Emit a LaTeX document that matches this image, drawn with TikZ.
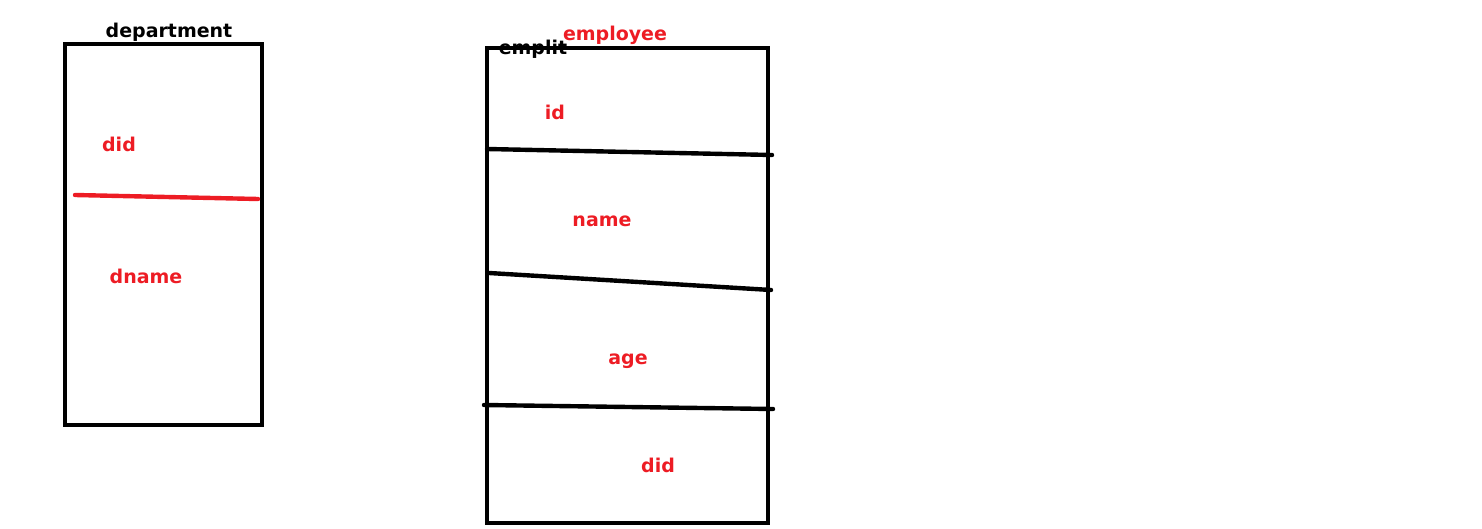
\documentclass[tikz,border=0pt]{standalone}
\usepackage{fontspec}
\setmainfont{DejaVu Sans}
\usepackage{tikz}
\usetikzlibrary{calc}

\definecolor{paintred}{HTML}{ED1C24}

\tikzset{
    tablebox/.style={draw, line width=2pt},
    sepline/.style={line width=2.2pt, line cap=round},
    field/.style={text=paintred, font=\fontsize{9.5}{11}\selectfont\bfseries, inner sep=0pt},
    title/.style={font=\fontsize{9.5}{11}\selectfont\bfseries, inner sep=0pt}
}

\begin{document}
\begin{tikzpicture}[x=0.5pt, y=-0.5pt]

    % Canvas
    \useasboundingbox (0,0) rectangle (1482,529);

    % department table
    \draw[tablebox] (65,44) rectangle (262,425);
    \node[title] (depttitle) at (169,32) {department};
    \node[field] (did) at (119,144) {did};
    \coordinate (dsepL) at (75,195);
    \coordinate (dsepR) at (258,199);
    \draw[sepline, paintred] (dsepL) -- (dsepR);
    \node[field] (dname) at (146,276) {dname};

    % employee table
    \draw[tablebox] (487,48) rectangle (768,523);
    \node[title, text=paintred] (emptitle) at (615,35) {employee};
    \node[title] (empold) at (533,49) {emplit};

    \node[field] (id) at (555,112) {id};
    \coordinate (sepAL) at (487,149);
    \coordinate (sepAR) at (772,155);
    \draw[sepline] (sepAL) -- (sepAR);

    \node[field] (name) at (602,221) {name};
    \coordinate (sepBL) at (489,273);
    \coordinate (sepBR) at (771,290);
    \draw[sepline] (sepBL) -- (sepBR);

    \node[field] (age) at (628,361) {age};
    \coordinate (sepCL) at (484,405);
    \coordinate (sepCR) at (773,409);
    \draw[sepline] (sepCL) -- (sepCR);

    \node[field] (empdid) at (658,465) {did};

\end{tikzpicture}
\end{document}
